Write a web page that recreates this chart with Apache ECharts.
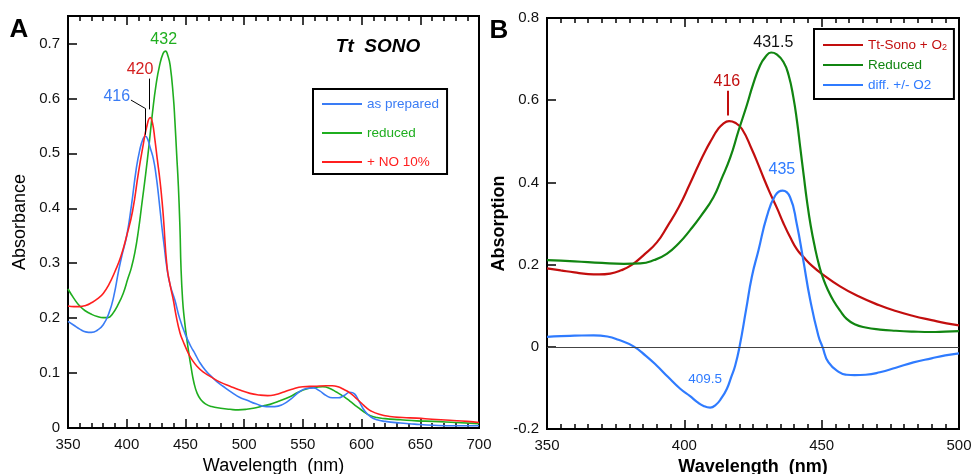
<!DOCTYPE html>
<html><head><meta charset="utf-8">
<script src="https://cdn.jsdelivr.net/npm/echarts@6/dist/echarts.min.js"></script>
<style>html,body{margin:0;padding:0;background:#fff}#c{width:973px;height:474px}</style>
</head><body><div id="c"></div>
<script>
// ---------- Panel A data (Tt SONO) ----------
const aPrepNm = [350,355,360,365,370,375,380,385,389,393,396,400,404,408,411,414,416,418,420,422.7,425,427,430,432,434,437,441,445,450,455,458,462,467,472,477,482,490,496,502,510,519,526,533,540,547,553,559,564,570,575,580,585,590,594,598,603,608,613,620,633,645,661,680,700];
const aPrepAbs = [0.194,0.187,0.180,0.175,0.174,0.178,0.188,0.210,0.240,0.285,0.315,0.350,0.405,0.470,0.505,0.527,0.531,0.525,0.510,0.490,0.460,0.425,0.365,0.330,0.295,0.260,0.233,0.200,0.170,0.147,0.136,0.120,0.105,0.094,0.084,0.076,0.064,0.056,0.051,0.044,0.039,0.039,0.043,0.053,0.066,0.072,0.073,0.068,0.059,0.055,0.055,0.059,0.065,0.062,0.048,0.030,0.020,0.015,0.012,0.009,0.007,0.005,0.004,0.004];

const aRedNm = [350,355,360,365,370,375,380,384,388,392,397,401,404,407,410,413,416,419,422,425,428,431,433,435,437,439.7,441,442.5,444,445.4,446.2,447.6,449,450.5,452.5,454.7,457.3,460,463,467,472.3,480,488,495,502,510,516,522,530,539,546,553,560,567,572,579,585,590,596,601,607,613,620,633,647,661,680,700];
const aRedAbs = [0.253,0.236,0.222,0.213,0.207,0.203,0.201,0.201,0.208,0.222,0.245,0.272,0.292,0.320,0.360,0.410,0.460,0.515,0.575,0.625,0.660,0.682,0.686,0.678,0.660,0.603,0.560,0.500,0.440,0.360,0.294,0.233,0.200,0.173,0.142,0.112,0.082,0.063,0.052,0.044,0.039,0.036,0.034,0.033,0.034,0.037,0.040,0.043,0.049,0.057,0.065,0.071,0.074,0.075,0.073,0.065,0.057,0.049,0.039,0.031,0.023,0.019,0.017,0.015,0.013,0.012,0.010,0.008];

const aNoNm = [350,355,360,365,370,375,380,385,390,395,400,405,410,414,417,420,422,424,426,428.3,430,431.2,434.3,437,439.7,442,445.4,448,452.5,456,460,465,471,480,488,495,505,513,520,527,533,540,550,560,570,575,580,585,590,595,600,604,608,615,624,635,647,660,675,690,700];
const aNoAbs = [0.222,0.221,0.221,0.223,0.228,0.235,0.245,0.262,0.285,0.312,0.350,0.395,0.465,0.515,0.548,0.565,0.555,0.525,0.490,0.451,0.415,0.385,0.294,0.260,0.233,0.205,0.173,0.158,0.136,0.123,0.112,0.102,0.094,0.083,0.076,0.070,0.063,0.060,0.059,0.061,0.065,0.070,0.075,0.076,0.077,0.077,0.075,0.070,0.064,0.055,0.045,0.037,0.031,0.025,0.021,0.019,0.018,0.016,0.014,0.012,0.010];

// ---------- Panel B data ----------
const bO2Nm = [350,355,360,365,369,373,377,381,385,390,394,398,402,405,407.6,410,412,414,416.3,418.5,421,424.6,427,428.8,431,433.7,436,438.5,441,443.3,446.5,450.6,456.7,463,471,477,483.4,490,495.5,500];
const bO2Abs = [0.191,0.186,0.181,0.177,0.176,0.178,0.186,0.200,0.222,0.254,0.295,0.340,0.396,0.440,0.476,0.505,0.527,0.542,0.549,0.545,0.530,0.480,0.442,0.412,0.377,0.338,0.302,0.267,0.237,0.219,0.197,0.175,0.147,0.124,0.101,0.087,0.075,0.065,0.057,0.052];

const bRedNm = [350,360,370,378,384,389,393.6,398,402.1,406,410.6,413.5,416.7,419.7,422.8,425,427.6,429.5,431.6,433.5,436.1,438,439.7,441,442.2,443.5,444.6,446,447.6,449,450.6,452.5,454.3,456.7,459.1,462,466,471.2,477,483.4,490,495,500];
const bRedAbs = [0.211,0.208,0.204,0.202,0.203,0.211,0.226,0.252,0.284,0.318,0.364,0.408,0.460,0.525,0.589,0.638,0.685,0.705,0.716,0.712,0.693,0.660,0.607,0.550,0.485,0.415,0.357,0.295,0.240,0.200,0.165,0.135,0.112,0.088,0.068,0.055,0.047,0.042,0.039,0.037,0.036,0.037,0.038];

const bDiffNm = [350,355,360,367,372,376,381.5,386,390,394,398.5,402.1,404.6,407,409.4,411.5,413.5,415.5,417,418.5,420.1,422.5,424.6,427,430,433.1,435.8,438.5,440.9,443.3,445.8,448.8,450.3,452.5,456.7,459.1,462,466,471.2,477,483.4,490,495,500];
const bDiffAbs = [0.024,0.026,0.027,0.028,0.025,0.017,0.001,-0.022,-0.046,-0.073,-0.102,-0.120,-0.134,-0.144,-0.148,-0.141,-0.125,-0.102,-0.075,-0.046,0.000,0.091,0.171,0.235,0.316,0.368,0.380,0.364,0.300,0.211,0.115,0.027,0.000,-0.038,-0.063,-0.068,-0.069,-0.068,-0.062,-0.051,-0.038,-0.028,-0.021,-0.016];

// Annotations: [text, wavelength, absorbance]
const annA = [['432', 431.5, 0.707], ['420', 411.3, 0.652], ['416', 391.5, 0.604]];
const annB = [['431.5', 432.4, 0.740], ['416', 415.5, 0.645], ['435', 435.5, 0.430], ['409.5', 407.6, -0.080]];

const FONT = '"Liberation Sans", Arial, Helvetica, sans-serif';
const C = {
  aBlue:'#3a7cf5', aGreen:'#1fae1f', aRed:'#ff1f1f', aRedTxt:'#d42020',
  bRed:'#c20e0e', bGreen:'#118511', bBlue:'#2f7bff'
};
function pairs(xs, ys){ return xs.map((x,i)=>[x, ys[i]]); }

function xAx(grid, min, max, minorSplit, pos, name, bold, gap){
  return {
    gridIndex: grid, type:'value', min:min, max:max, interval:50, position:pos,
    name: name, nameLocation:'middle', nameGap: gap,
    nameTextStyle:{fontSize:18, color:'#000', fontFamily:FONT, fontWeight: bold ? 'bold' : 'normal'},
    axisLine:{show:true, onZero:false, lineStyle:{color:'#000', width:2}},
    axisTick:{show:true, inside:true, length:9, lineStyle:{color:'#000', width:1.5}},
    minorTick:{show:true, splitNumber:minorSplit, length:5, lineStyle:{color:'#000', width:1.5}},
    axisLabel:{show: pos === 'bottom', fontSize:15, color:'#111', margin:9, fontFamily:FONT},
    splitLine:{show:false}, minorSplitLine:{show:false}
  };
}
function yAx(grid, min, max, interval, name, bold){
  return {
    gridIndex:grid, type:'value', min:min, max:max, interval:interval,
    name:name, nameLocation:'middle', nameGap:39, nameRotate:90,
    nameTextStyle:{fontSize:18, color:'#000', fontFamily:FONT, fontWeight: bold ? 'bold' : 'normal'},
    axisLine:{show:true, onZero:false, lineStyle:{color:'#000', width:2}},
    axisTick:{show:true, inside:true, length:9, lineStyle:{color:'#000', width:1.5}},
    axisLabel:{fontSize:15, color:'#111', margin:8, fontFamily:FONT, showMaxLabel: max > 0.78,
      formatter: v => (v > 0.71 && max < 0.78) ? '' : String(+v.toFixed(1))},
    splitLine:{show:false}
  };
}
function ann(list, color){
  return {
    symbol:'rect', symbolSize:1, silent:true,
    itemStyle:{color:'rgba(0,0,0,0)'},
    label:{show:true, position:'inside', formatter:'{b}', fontFamily:FONT, fontSize:16},
    data: list.map(a => ({name:a[0], coord:[a[1], a[2]], label:{color: color[a[0]]}}))
  };
}
function lineSeries(name, xi, yi, data, color, width, extra){
  return Object.assign({
    name:name, type:'line', xAxisIndex:xi, yAxisIndex:yi, data:data,
    showSymbol:false, symbol:'none', smooth:0.5, animation:false,
    lineStyle:{color:color, width:width}, itemStyle:{color:color},
    emphasis:{disabled:true}
  }, extra || {});
}
const segLine = {symbol:['none','none'], silent:true, label:{show:false}, emphasis:{disabled:true}};
const subStyle = {fontSize:9, color:C.bRed, fontFamily:FONT, verticalAlign:'bottom', lineHeight:3};

const chart = echarts.init(document.getElementById('c'), null, {renderer:'canvas'});
const option = {
  animation:false,
  backgroundColor:'#fff',
  textStyle:{fontFamily:FONT},
  grid:[
    {left:68, top:16, width:411, height:412, show:true, borderColor:'#000', borderWidth:2, backgroundColor:'transparent', containLabel:false, outerBoundsMode:'none'},
    {left:547, top:18, width:412, height:411, show:true, borderColor:'#000', borderWidth:2, backgroundColor:'transparent', containLabel:false, outerBoundsMode:'none'}
  ],
  xAxis:[
    xAx(0, 350, 700, 5, 'bottom', 'Wavelength  (nm)', false, 29),
    xAx(0, 350, 700, 5, 'top', '', false, 10),
    xAx(1, 350, 500, 10, 'bottom', 'Wavelength  (nm)', true, 27),
    xAx(1, 350, 500, 10, 'top', '', true, 10)
  ],
  yAxis:[
    yAx(0, 0, 0.75, 0.1, 'Absorbance', false),
    yAx(1, -0.2, 0.8, 0.2, 'Absorption', true)
  ],
  legend:[
    {
      orient:'vertical', left:313, top:89, padding:[8,8,5,9], itemGap:15,
      itemWidth:40, itemHeight:2, icon:'rect', borderColor:'#000', borderWidth:2,
      backgroundColor:'#fff', selectedMode:false,
      textStyle:{fontSize:13.5, fontFamily:FONT, lineHeight:14},
      data:[
        {name:'as prepared', textStyle:{color:C.aBlue}},
        {name:'reduced', textStyle:{color:C.aGreen}},
        {name:'+ NO 10%', textStyle:{color:C.aRed}}
      ]
    },
    {
      orient:'vertical', left:814, top:29, padding:[9,7,7,9], itemGap:6,
      itemWidth:40, itemHeight:2, icon:'rect', borderColor:'#000', borderWidth:2,
      backgroundColor:'#fff', selectedMode:false,
      formatter: n => n === 'Tt-Sono + O2' ? 'Tt-Sono + O{sub|2}' : n,
      textStyle:{fontSize:13.5, fontFamily:FONT, lineHeight:14, rich:{sub:subStyle}},
      data:[
        {name:'Tt-Sono + O2', textStyle:{color:C.bRed, rich:{sub:subStyle}}},
        {name:'Reduced', textStyle:{color:C.bGreen}},
        {name:'diff. +/- O2', textStyle:{color:C.bBlue}}
      ]
    }
  ],
  graphic:[
    {type:'text', x:19, y:30, style:{text:'A', font:'bold 26px '+FONT, fill:'#000', align:'center', verticalAlign:'middle'}},
    {type:'text', x:499, y:31, style:{text:'B', font:'bold 26px '+FONT, fill:'#000', align:'center', verticalAlign:'middle'}},
    {type:'text', x:378, y:47, style:{text:'Tt  SONO', font:'italic bold 19px '+FONT, fill:'#000', align:'center', verticalAlign:'middle'}}
  ],
  series:[
    lineSeries('reduced', 0, 0, pairs(aRedNm, aRedAbs), C.aGreen, 1.6, {
      markPoint: ann(annA, {'432':C.aGreen, '420':C.aRedTxt, '416':C.aBlue}),
      markLine: Object.assign({}, segLine, {
        lineStyle:{color:'#000', width:1, type:'solid'},
        data:[
          [{coord:[403.6, 0.597]}, {coord:[415.6, 0.582]}],
          [{coord:[415.6, 0.582]}, {coord:[415.6, 0.534]}],
          [{coord:[419.6, 0.636]}, {coord:[419.6, 0.580]}]
        ]
      })
    }),
    lineSeries('as prepared', 0, 0, pairs(aPrepNm, aPrepAbs), C.aBlue, 1.6),
    lineSeries('+ NO 10%', 0, 0, pairs(aNoNm, aNoAbs), C.aRed, 1.6),
    lineSeries('Tt-Sono + O2', 2, 1, pairs(bO2Nm, bO2Abs), C.bRed, 2.2, {
      markLine: Object.assign({}, segLine, {
        lineStyle:{color:C.bRed, width:2, type:'solid'},
        data:[[{coord:[415.8, 0.623]}, {coord:[415.8, 0.563]}]]
      })
    }),
    lineSeries('Reduced', 2, 1, pairs(bRedNm, bRedAbs), C.bGreen, 2.2, {
      markLine: Object.assign({}, segLine, {
        lineStyle:{color:'#444', width:1, type:'solid'},
        data:[{yAxis:0}]
      })
    }),
    lineSeries('diff. +/- O2', 2, 1, pairs(bDiffNm, bDiffAbs), C.bBlue, 2.2, {
      markPoint: (function(){
        const m = ann(annB, {'431.5':'#111', '416':C.bRed, '435':C.bBlue, '409.5':C.bBlue});
        m.data.forEach(d => { if (d.name === '409.5') d.label.fontSize = 13.5; });
        return m;
      })()
    })
  ]
};
chart.setOption(option);
</script></body></html>
